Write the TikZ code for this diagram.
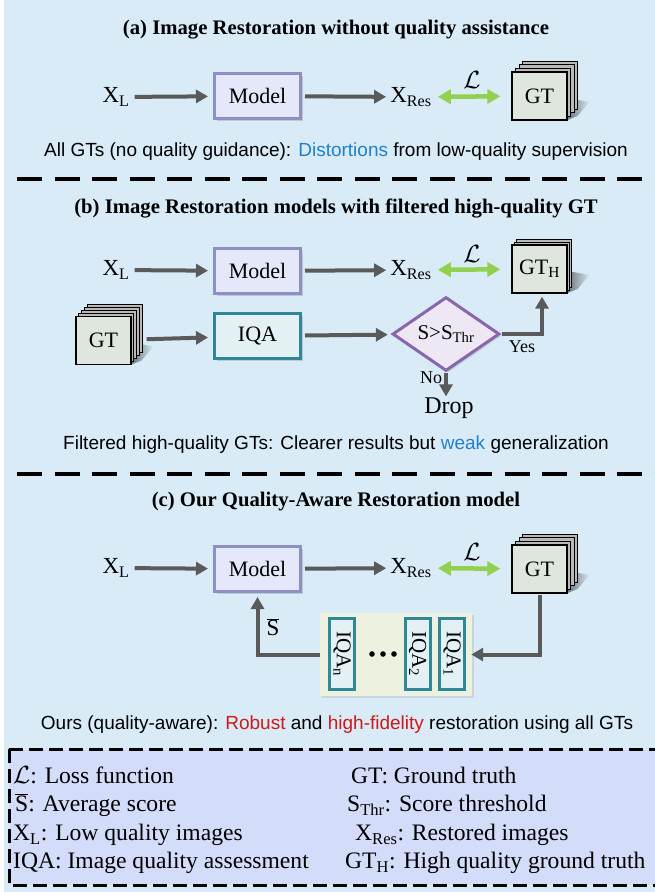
\documentclass[tikz,border=0pt]{standalone}
\usepackage{fontspec}
\setmainfont{Liberation Serif}
\setsansfont{Liberation Sans}
\usetikzlibrary{arrows.meta,shapes.geometric,shadows,fadings,calc}

\definecolor{bgblue}{HTML}{D8EBF6}
\definecolor{legfill}{HTML}{D3DCF8}
\definecolor{modelfill}{HTML}{E4E8FA}
\definecolor{modelborder}{HTML}{8D90C2}
\definecolor{iqafill}{HTML}{E3F0F4}
\definecolor{tealb}{HTML}{2F8798}
\definecolor{diafill}{HTML}{EEE8F4}
\definecolor{diaborder}{HTML}{8A67AB}
\definecolor{gtfill}{HTML}{DEE6DE}
\definecolor{panelfill}{HTML}{EDF2E0}
\definecolor{arrowgray}{HTML}{5A5A5A}
\definecolor{lossgreen}{HTML}{92D050}
\definecolor{blueT}{HTML}{2080D0}
\definecolor{redT}{HTML}{D01818}

\newcommand{\gtstack}[7]{%
  \fill[black, opacity=.5, path fading=east] (#2+28,#3+2) -- (#2+50,#3+6) -- (#2+38,#3+20) -- (#2+28,#3+24) -- cycle;
  \foreach \k in {#4,...,1}{\draw[gtlayer] (#2-27.5+\k*#5,#3-24-\k*#6) rectangle ++(55,48);}
  \node[gtbox] (#1) at (#2,#3) {#7};
}

\begin{document}
\begin{tikzpicture}[x=1pt,y=-1pt,
  titletext/.style={font=\bfseries\fontsize{20.7}{24}\selectfont, inner sep=0pt},
  captext/.style={font=\sffamily\fontsize{19}{22}\selectfont, inner sep=0pt},
  lbl/.style={font=\fontsize{23}{27}\selectfont, inner sep=3pt},
  smalllbl/.style={font=\fontsize{18}{22}\selectfont, inner sep=1pt},
  losslbl/.style={font=\fontsize{24}{28}\selectfont, inner sep=0pt},
  legtext/.style={font=\fontsize{23.6}{28}\selectfont, inner sep=0pt, anchor=west},
  boxbase/.style={line width=3pt, minimum width=86pt, minimum height=45pt,
    font=\fontsize{22}{26}\selectfont,
    drop shadow={opacity=0.3, shadow xshift=2pt, shadow yshift=-2pt}},
  modelbox/.style={boxbase, draw=modelborder, fill=modelfill},
  iqabox/.style={boxbase, draw=tealb, fill=iqafill},
  gtbox/.style={draw=black, line width=1.3pt, fill=gtfill, minimum width=55pt, minimum height=48pt,
    font=\fontsize{22}{26}\selectfont},
  gtlayer/.style={draw=black, line width=1pt, fill=gray!55},
  garrow/.style={draw=arrowgray, line width=4pt, -{Triangle[length=12pt,width=13pt]}},
  lossarrow/.style={draw=lossgreen, line width=4.5pt,
    {Triangle[length=13pt,width=14pt]}-{Triangle[length=13pt,width=14pt]}},
  sepline/.style={line width=3.5pt, dash pattern=on 25pt off 12.5pt},
  iqavert/.style={draw=tealb, fill=iqafill, line width=3pt, minimum width=25pt, minimum height=71pt,
    inner sep=0pt},
  iqatext/.style={font=\fontsize{21}{24}\selectfont, rotate=-90, inner sep=0pt}
]
\useasboundingbox (0,0) rectangle (655,892);
\fill[white] (0,0) rectangle (655,892);
\fill[bgblue] (4,0) rectangle (655,892);

% ---------- (a) ----------
\node[titletext] (ta) at (336,30) {(a) Image Restoration without quality assistance};
\node[lbl] (xla) at (116,97) {X\textsubscript{L}};
\node[modelbox] (ma) at (257.5,96) {Model};
\node[lbl] (xra) at (411,97) {X\textsubscript{Res}};
\gtstack{gta}{539.5}{96}{3}{3.6}{3.6}{GT}
\node[losslbl] (la) at (472,80) {$\mathcal{L}$};
\draw[garrow, shorten <=2pt, shorten >=5pt] (xla) -- (ma);
\draw[garrow, shorten <=3pt, shorten >=1pt] (ma) -- (xra);
\draw[lossarrow, shorten <=3pt, shorten >=11pt] (xra) -- (gta);
\node[captext] (ca) at (336,152) {All GTs (no quality guidance): \textcolor{blueT}{Distortions} from low-quality supervision};

\draw[sepline] (17,179) -- (660,179);

% ---------- (b) ----------
\node[titletext] (tb) at (336,208) {(b) Image Restoration models with filtered high-quality GT};
\node[lbl] (xlb) at (116,270) {X\textsubscript{L}};
\node[modelbox] (mb) at (257.5,271) {Model};
\node[lbl] (xrb) at (411,270) {X\textsubscript{Res}};
\gtstack{gth}{539.5}{269}{2}{2}{3}{GT\textsubscript{H}}
\node[losslbl] (lb) at (472,254) {$\mathcal{L}$};
\draw[garrow, shorten <=2pt, shorten >=5pt] (xlb) -- (mb);
\draw[garrow, shorten <=3pt, shorten >=1pt] (mb) -- (xrb);
\draw[lossarrow, shorten <=3pt, shorten >=11pt] (xrb) -- (gth);

\gtstack{gtl}{103.5}{340.5}{4}{2.75}{3}{GT}
\node[iqabox] (iqab) at (257.5,336) {IQA};
\node[diamond, draw=diaborder, fill=diafill, line width=3pt, minimum width=107pt, minimum height=60pt,
  inner sep=0pt, font=\fontsize{21}{24}\selectfont,
  drop shadow={opacity=0.25, shadow xshift=2pt, shadow yshift=-2pt}] (dia) at (446,334) {S>S\textsubscript{Thr}};
\node[smalllbl] (yes) at (522,347) {Yes};
\node[smalllbl] (no) at (431,378) {No};
\node[font=\fontsize{24}{28}\selectfont, inner sep=1pt] (drop) at (449,408) {Drop};
\draw[garrow, shorten <=15pt, shorten >=5pt] (gtl) -- (iqab);
\draw[garrow, shorten <=3pt, shorten >=4pt] (iqab) -- (dia);
\draw[garrow, shorten <=1pt, shorten >=3pt] (dia.east) -| ([xshift=2.5pt]gth.south);
\draw[garrow, shorten <=1pt] (dia.south) -- (dia.south |- drop.north);
\node[captext] (cb) at (336,445) {Filtered high-quality GTs: Clearer results but \textcolor{blueT}{weak} generalization};

\draw[sepline] (17,474) -- (660,474);

% ---------- (c) ----------
\node[titletext] (tc) at (336,502) {(c) Our Quality-Aware Restoration model};
\node[lbl] (xlc) at (116,568) {X\textsubscript{L}};
\node[modelbox] (mc) at (257.5,569) {Model};
\node[lbl] (xrc) at (411,568) {X\textsubscript{Res}};
\gtstack{gtc}{539.5}{569}{3}{3.6}{3.6}{GT}
\node[losslbl] (lc) at (472,552) {$\mathcal{L}$};
\draw[garrow, shorten <=2pt, shorten >=5pt] (xlc) -- (mc);
\draw[garrow, shorten <=3pt, shorten >=1pt] (mc) -- (xrc);
\draw[lossarrow, shorten <=3pt, shorten >=11pt] (xrc) -- (gtc);

\node[fill=panelfill, minimum width=152pt, minimum height=83pt, inner sep=0pt,
  drop shadow={opacity=0.2, shadow xshift=2pt, shadow yshift=-2pt}] (panel) at (396,654.5) {};
\node[iqavert] (iqan) at (342,654) {};
\node[iqavert] (iqa2) at (417.5,654) {};
\node[iqavert] (iqa1) at (452,654) {};
\node[iqatext] (tn) at (iqan) {IQA\textsubscript{n}};
\node[iqatext] (t2) at (iqa2) {IQA\textsubscript{2}};
\node[iqatext] (t1) at (iqa1) {IQA\textsubscript{1}};
\foreach \dx in {372,383,394} {\fill[black] (\dx,654) circle (2.8pt);}
\draw[garrow, shorten <=1pt, shorten >=-1pt] (gtc.south) |- (panel.east);
\draw[garrow, shorten >=4pt] (panel.west) -| (mc.south);
\node[lbl] (sbar) at (273,627) {$\overline{\mbox{S}}$};
\node[captext] (cc) at (337,725) {Ours (quality-aware): \textcolor{redT}{Robust} and \textcolor{redT}{high-fidelity} restoration using all GTs};

% ---------- legend ----------
\filldraw[fill=legfill, draw=black, line width=3pt, dash pattern=on 14pt off 6pt] (9,749) rectangle (680,885);
\node[legtext] (g1) at (13,775) {$\mathcal{L}$: Loss function};
\node[legtext] (g2) at (15,805) {$\overline{\mbox{S}}$: Average score};
\node[legtext] (g3) at (13,835) {X\textsubscript{L}: Low quality images};
\node[legtext] (g4) at (13,863) {IQA: Image quality assessment};
\node[legtext] (g5) at (351,775) {GT: Ground truth};
\node[legtext] (g6) at (347,805) {S\textsubscript{Thr}: Score threshold};
\node[legtext] (g7) at (355,835) {X\textsubscript{Res}: Restored images};
\node[legtext] (g8) at (345,863) {GT\textsubscript{H}: High quality ground truth};
\end{tikzpicture}
\end{document}
